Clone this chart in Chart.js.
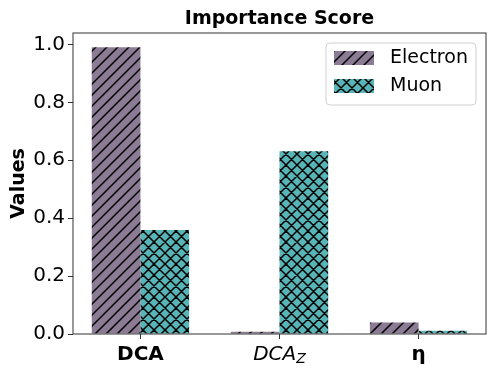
<!DOCTYPE html>
<html>
<head>
<meta charset="utf-8">
<script src="https://cdn.jsdelivr.net/npm/chart.js@4.4.0/dist/chart.umd.min.js"></script>
<style>
  html, body { margin: 0; padding: 0; background: #fff; }
  #wrap { width: 498px; height: 374px; }
</style>
</head>
<body>
<div id="wrap"><canvas id="grafico" width="498" height="374"></canvas></div>
<script>
const categorias = ["DCA", "DCA_Z", "η"];
const posiciones = [0, 1, 2];
const electron = [0.99, 0.008, 0.040];
const muon = [0.359, 0.631, 0.011];
const yTicks = [0, 0.2, 0.4, 0.6, 0.8, 1.0];

const fuente = "'DejaVu Sans', sans-serif";

function patron(color, cruz) {
    const s = 33, paso = s / 3;
    const c = document.createElement("canvas");
    c.width = s; c.height = s;
    const g = c.getContext("2d");
    g.fillStyle = color;
    g.fillRect(0, 0, s, s);
    g.strokeStyle = "#000";
    g.lineWidth = 1.5;
    g.beginPath();
    for (let k = 0; k <= 6; k++) {
        const cc = k * paso;
        g.moveTo(cc + 1, -1); g.lineTo(cc - s - 1, s + 1);
        if (cruz) {
            g.moveTo(cc - s - 1, -1); g.lineTo(cc + 1, s + 1);
        }
    }
    g.stroke();
    return g.createPattern(c, "repeat");
}

const colorElectron = "#8c7b95";
const colorMuon = "#58b5b7";
const patronElectron = patron(colorElectron, false);
const patronMuon = patron(colorMuon, true);

const extras = {
    id: "extras",
    afterDraw(chart) {
        const ctx = chart.ctx;
        const a = chart.chartArea;
        const x = chart.scales.x;
        ctx.save();

        // marco
        ctx.strokeStyle = "#333";
        ctx.lineWidth = 1;
        ctx.strokeRect(a.left, a.top, a.right - a.left, a.bottom - a.top);

        // titulo
        ctx.fillStyle = "#000";
        ctx.font = "bold 19px " + fuente;
        ctx.textAlign = "center";
        ctx.textBaseline = "middle";
        ctx.fillText("Importance Score", (a.left + a.right) / 2, 19);

        // etiquetas del eje x
        const base = 360;
        ctx.textBaseline = "alphabetic";
        categorias.forEach((cat, i) => {
            const px = x.getPixelForValue(posiciones[i]);
            if (cat.includes("_")) {
                const [main, sub] = cat.split("_");
                ctx.font = "italic 20px " + fuente;
                const w1 = ctx.measureText(main).width;
                ctx.font = "italic 14px " + fuente;
                const w2 = ctx.measureText(sub).width;
                const x0 = px - (w1 + w2) / 2;
                ctx.textAlign = "left";
                ctx.font = "italic 20px " + fuente;
                ctx.fillText(main, x0, base);
                ctx.font = "italic 14px " + fuente;
                ctx.fillText(sub, x0 + w1, base + 3);
            } else {
                ctx.textAlign = "center";
                ctx.font = "bold 20px " + fuente;
                ctx.fillText(cat, px, base);
            }
        });

        // leyenda
        const lx = 326, ly = 43, lw = 150, lh = 62, r = 4;
        ctx.beginPath();
        ctx.moveTo(lx + r, ly);
        ctx.arcTo(lx + lw, ly, lx + lw, ly + lh, r);
        ctx.arcTo(lx + lw, ly + lh, lx, ly + lh, r);
        ctx.arcTo(lx, ly + lh, lx, ly, r);
        ctx.arcTo(lx, ly, lx + lw, ly, r);
        ctx.closePath();
        ctx.fillStyle = "rgba(255,255,255,0.8)";
        ctx.fill();
        ctx.strokeStyle = "#d0d0d0";
        ctx.lineWidth = 1;
        ctx.stroke();

        chart.data.datasets.forEach((ds, i) => {
            const yy = 51 + i * 28;
            ctx.fillStyle = ds.backgroundColor;
            ctx.fillRect(334, yy, 40, 14);
            ctx.fillStyle = "#000";
            ctx.font = "19px " + fuente;
            ctx.textAlign = "left";
            ctx.textBaseline = "middle";
            ctx.fillText(ds.label, 390, yy + 7);
        });
        ctx.restore();
    }
};

const ctx = document.getElementById("grafico").getContext("2d");
new Chart(ctx, {
    type: "bar",
    data: {
        datasets: [
            {
                label: "Electron",
                data: posiciones.map((p, i) => ({ x: p, y: electron[i] })),
                backgroundColor: patronElectron,
                borderWidth: 0
            },
            {
                label: "Muon",
                data: posiciones.map((p, i) => ({ x: p, y: muon[i] })),
                backgroundColor: patronMuon,
                borderWidth: 0
            }
        ]
    },
    options: {
        responsive: false,
        animation: false,
        layout: { padding: { left: 0, right: 12, top: 33, bottom: 0 } },
        datasets: { bar: { categoryPercentage: 0.7, barPercentage: 1.0 } },
        plugins: {
            legend: { display: false },
            title: { display: false },
            tooltip: { enabled: false }
        },
        scales: {
            x: {
                type: "linear",
                min: -0.485,
                max: 2.485,
                offset: false,
                afterBuildTicks: s => { s.ticks = posiciones.map(v => ({ value: v })); },
                afterFit: s => { s.height = 40; },
                ticks: { callback: () => "", padding: 0 },
                grid: { offset: false, drawOnChartArea: false, drawTicks: true, tickLength: 5, tickColor: "#333" },
                border: { display: false }
            },
            y: {
                min: 0,
                max: 1.0395,
                afterBuildTicks: s => { s.ticks = yTicks.map(v => ({ value: v })); },
                afterFit: s => { s.width = 73; },
                ticks: {
                    padding: 3,
                    color: "#000",
                    font: { family: fuente, size: 20 },
                    callback: v => v.toFixed(1)
                },
                title: {
                    display: true,
                    text: "Values",
                    color: "#000",
                    font: { family: fuente, size: 19, weight: "bold" },
                    padding: { top: 8, bottom: 0 }
                },
                grid: { drawOnChartArea: false, drawTicks: true, tickLength: 5, tickColor: "#333" },
                border: { display: false }
            }
        }
    },
    plugins: [extras]
});
</script>
</body>
</html>
